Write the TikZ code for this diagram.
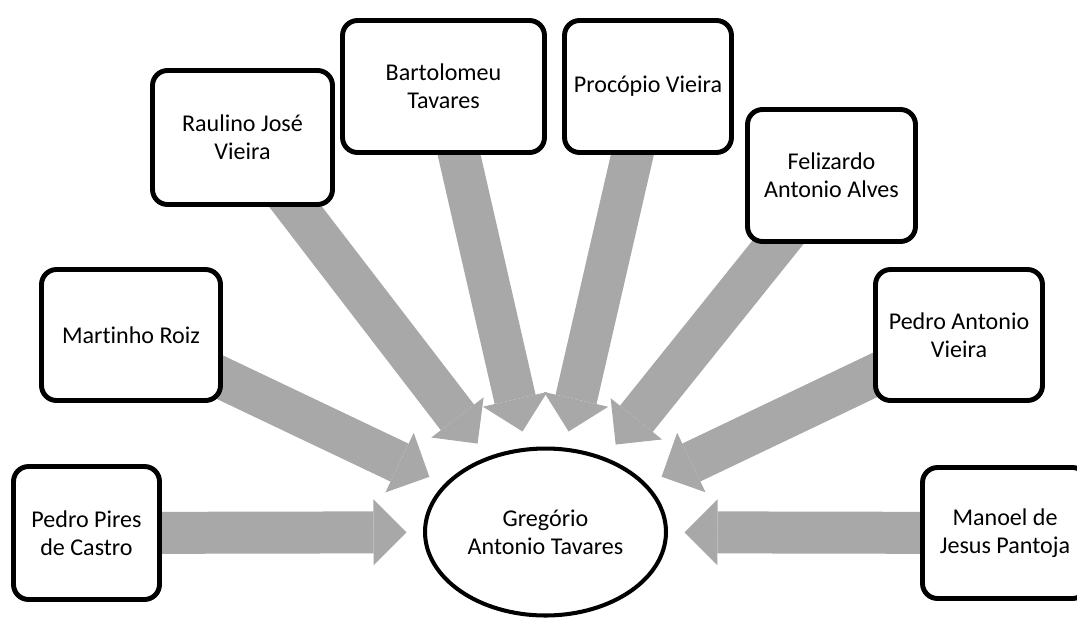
\documentclass[tikz,border=0pt]{standalone}
\usepackage{fontspec}
\setmainfont{Carlito}[Ligatures=NoCommon]
\usetikzlibrary{arrows.meta,shapes.geometric,backgrounds}
\definecolor{arrowgray}{RGB}{168,168,168}
\tikzset{
  person/.style={draw, line width=2.8pt, rounded corners=0.3cm, fill=white,
    align=center, inner sep=2pt, font=\fontsize{13.7}{16}\selectfont},
  fat/.style={arrowgray, line width=0.84cm, shorten >=0.33cm, shorten <=-0.4cm,
    -{Triangle[length=0.66cm,width=1.32cm,line width=0pt]}}
}
\begin{document}
\begin{tikzpicture}[x=0.02cm, y=-0.02cm]
  \clip (0,0) rectangle (1077,619);
  \node[draw, ellipse, line width=2.3pt, fill=white, inner sep=0pt,
    minimum width=4.82cm, minimum height=3.34cm, align=center,
    font=\fontsize{13.7}{16}\selectfont] (greg) at (545.5,532) {Gregório\\Antonio Tavares};
  \node[person, minimum width=2.92cm, minimum height=2.66cm] (pires) at (86.5,533) {Pedro Pires\\de Castro};
  \node[person, minimum width=3.58cm, minimum height=2.62cm] (martinho) at (131,335) {Martinho Roiz};
  \node[person, minimum width=3.60cm, minimum height=2.68cm] (raulino) at (242.5,137.5) {Raulino José\\Vieira};
  \node[person, minimum width=4.04cm, minimum height=2.64cm] (bartolomeu) at (443.5,86.5) {Bartolomeu\\Tavares};
  \node[person, minimum width=3.34cm, minimum height=2.64cm] (procopio) at (648,86.5) {Procópio Vieira};
  \node[person, minimum width=3.36cm, minimum height=2.64cm] (felizardo) at (831.5,175.5) {Felizardo\\Antonio Alves};
  \node[person, minimum width=3.34cm, minimum height=2.62cm] (pedroantonio) at (959,335) {Pedro Antonio\\Vieira};
  \node[person, minimum width=3.30cm, minimum height=2.62cm] (manoel) at (1005,533) {Manoel de\\Jesus Pantoja};
  % arrows behind the boxes
  \begin{scope}[on background layer]
    \foreach \who in {pires,martinho,raulino,bartolomeu,procopio,felizardo,pedroantonio,manoel}
      \draw[fat] (\who) -- (greg);
  \end{scope}
\end{tikzpicture}
\end{document}
